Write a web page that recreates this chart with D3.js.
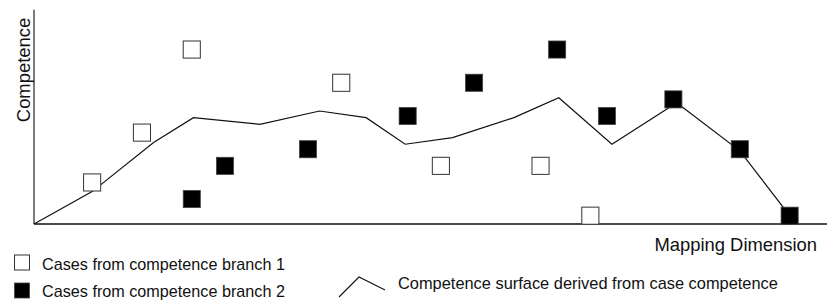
<!DOCTYPE html>
<html>
<head>
<meta charset="utf-8">
<script src="https://cdn.jsdelivr.net/npm/d3@7"></script>
<style>
  body { margin: 0; background: #fff; }
  svg { display: block; font-family: "Liberation Sans", Arial, Helvetica, sans-serif; }
  text { fill: #111; }
</style>
</head>
<body>
<div id="app"></div>
<script>
// Cases from competence branch 1 (open squares) — [mapping, competence]
const branch1 = [[3.5, 2.5], [6.5, 5.5], [9.5, 10.5], [18.5, 8.5], [24.5, 3.5], [30.5, 3.5], [33.5, 0.5]];
// Cases from competence branch 2 (filled squares)
const branch2 = [[9.5, 1.5], [11.5, 3.5], [16.5, 4.5], [22.5, 6.5], [26.5, 8.5], [31.5, 10.5],
                 [34.5, 6.5], [38.5, 7.5], [42.5, 4.5], [45.5, 0.5]];
// Competence surface
const surface = [[0, 0], [3.5, 1.95], [7.2, 4.9], [9.6, 6.4], [13.6, 6.0], [17.2, 6.8], [20, 6.4],
                 [22.35, 4.8], [25.2, 5.2], [28.9, 6.4], [31.6, 7.6], [34.8, 4.8], [38.7, 7.3],
                 [42.5, 4.4], [45.5, 0.5]];

const xLabel = "Mapping Dimension";
const yLabel = "Competence";
const legendLabels = ["Cases from competence branch 1", "Cases from competence branch 2",
                      "Competence surface derived from case competence"];

const W = 827, H = 302;

const x = d3.scaleLinear().domain([0, 47.75]).range([34, 827]);
const y = d3.scaleLinear().domain([0, 13]).range([224, 8]);

const svg = d3.select("#app").append("svg")
    .attr("width", W)
    .attr("height", H);

const size = x(1) - x(0) + 0.5;

// axes (plain lines, no ticks)
svg.append("line")
    .attr("x1", x(0)).attr("x2", x(0))
    .attr("y1", y(0)).attr("y2", y(12.9))
    .attr("stroke", "#333").attr("stroke-width", 1.3);
svg.append("line")
    .attr("x1", x(0)).attr("x2", x(47.75))
    .attr("y1", y(0)).attr("y2", y(0))
    .attr("stroke", "#111").attr("stroke-width", 1.3);

// surface line
const line = d3.line().x(d => x(d[0])).y(d => y(d[1]));
svg.append("path")
    .datum(surface)
    .attr("d", line)
    .attr("fill", "none")
    .attr("stroke", "#111")
    .attr("stroke-width", 1.2);

// open squares
svg.selectAll(".b1")
    .data(branch1)
  .enter().append("rect")
    .attr("class", "b1")
    .attr("x", d => x(d[0]) - size / 2)
    .attr("y", d => y(d[1]) - size / 2)
    .attr("width", size)
    .attr("height", size)
    .attr("fill", "#fff")
    .attr("stroke", "#333")
    .attr("stroke-width", 1);

// filled squares
svg.selectAll(".b2")
    .data(branch2)
  .enter().append("rect")
    .attr("class", "b2")
    .attr("x", d => x(d[0]) - size / 2)
    .attr("y", d => y(d[1]) - size / 2)
    .attr("width", size)
    .attr("height", size)
    .attr("fill", "#000")
    .attr("stroke", "#444")
    .attr("stroke-width", 0.8);

// axis labels
svg.append("text")
    .attr("x", 817)
    .attr("y", 251)
    .style("text-anchor", "end")
    .style("font-size", "18.4px")
    .text(xLabel);

svg.append("text")
    .attr("transform", "translate(30, 70) rotate(-90)")
    .style("text-anchor", "middle")
    .style("font-size", "18.4px")
    .text(yLabel);

// legend
const legend = svg.append("g").attr("class", "legend");

legend.append("rect")
    .attr("x", 14.5).attr("y", 255)
    .attr("width", 15).attr("height", 15)
    .attr("fill", "#fff").attr("stroke", "#333").attr("stroke-width", 1);
legend.append("rect")
    .attr("x", 14.5).attr("y", 283)
    .attr("width", 15).attr("height", 15)
    .attr("fill", "#000").attr("stroke", "#444").attr("stroke-width", 0.8);

legend.append("text").attr("x", 42).attr("y", 270)
    .style("font-size", "16.2px").text(legendLabels[0]);
legend.append("text").attr("x", 42).attr("y", 297)
    .style("font-size", "16.2px").text(legendLabels[1]);

legend.append("path")
    .attr("d", "M339,297L359,277L385,290")
    .attr("fill", "none").attr("stroke", "#111").attr("stroke-width", 1.1);
legend.append("text").attr("x", 398).attr("y", 289)
    .style("font-size", "16.4px").text(legendLabels[2]);
</script>
</body>
</html>
